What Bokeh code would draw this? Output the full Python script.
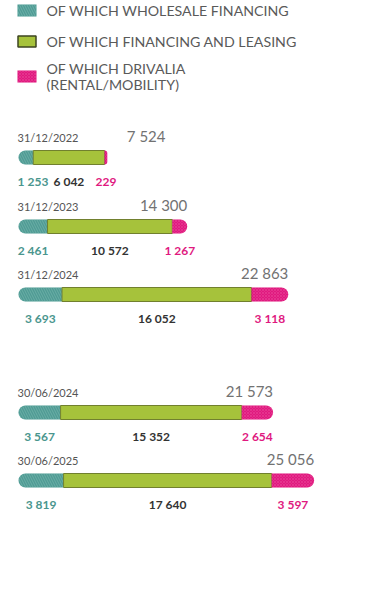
from bokeh.plotting import figure
from bokeh.models import ColumnDataSource, Range1d
from bokeh.core.properties import value
from bokeh.embed import file_html
from bokeh.resources import INLINE

# ---- data ----
dates = ["31/12/2022", "31/12/2023", "31/12/2024", "30/06/2024", "30/06/2025"]
wholesale = [1253, 2461, 3693, 3567, 3819]
financing = [6042, 10572, 16052, 15352, 17640]
drivalia = [229, 1267, 3118, 2654, 3597]
totals = [7524, 14300, 22863, 21573, 25056]
legend_labels = ["OF WHICH WHOLESALE FINANCING", "OF WHICH FINANCING AND LEASING",
                 "OF WHICH DRIVALIA", "(RENTAL/MOBILITY)"]

# ---- layout / style ----
W, H = 364, 600
S = 0.0118          # pixels per unit
X0 = 18             # pixel position of value 0 inside the figure
rows_y = [157, 226, 294, 412, 480]
BAR_H = 14
TEAL, GREEN, PINK = "#4f9b94", "#a6c23b", "#e0197f"
FONT = value("Lato")


def px(xpix):
    """figure pixel -> data value"""
    return (xpix - X0) / S


def fmt(v):
    return f"{v:,}".replace(",", " ")


p = figure(width=W, height=H, output_backend="svg", toolbar_location=None,
           x_range=Range1d(px(0), px(W)), y_range=Range1d(H, 0),
           min_border=0, outline_line_color=None)
p.axis.visible = False
p.grid.visible = False
p.background_fill_color = "white"

right_g = [w + f for w, f in zip(wholesale, financing)]

src = ColumnDataSource(dict(y=rows_y, w=wholesale, g=right_g, t=totals))

p.hbar(y="y", left=0, right="w", height=BAR_H, source=src, fill_color=TEAL,
       line_color=None, hatch_pattern="\\", hatch_color="#8cc4bd", hatch_alpha=0.55,
       hatch_scale=5, hatch_weight=0.8, border_radius=(7, 0, 0, 7))
p.hbar(y="y", left="w", right="g", height=BAR_H, source=src, fill_color=GREEN,
       line_color="#71802e", line_width=1)
p.hbar(y="y", left="g", right="t", height=BAR_H, source=src, fill_color=PINK,
       line_color=None, hatch_pattern="x", hatch_color="#f26aab", hatch_alpha=0.5,
       hatch_scale=3, hatch_weight=0.6, border_radius=(0, 7, 7, 0))

# date labels
p.text(x=[px(17)] * len(dates), y=[y - 20 for y in rows_y], text=dates,
       text_font=FONT, text_font_size="11px", text_color="#555555",
       text_align="left", text_baseline="middle")

# total labels (right aligned at bar end, kept clear of the date label)
tot_x = [max(t, px(165)) for t in totals]
p.text(x=tot_x, y=[y - 22 for y in rows_y], text=[fmt(t) for t in totals],
       text_font=FONT, text_font_size="15px", text_color="#727272",
       text_align="right", text_baseline="middle")

# segment value labels
lab_y = [y + 24 for y in rows_y]
teal_x = [max(w / 2, px(X0 + 14.5)) for w in wholesale]
green_x = [w + f / 2 for w, f in zip(wholesale, financing)]
pink_x = [g + d / 2 for g, d in zip(right_g, drivalia)]
for xs, vals, col in [(teal_x, wholesale, "#4a968e"), (green_x, financing, "#333333"),
                      (pink_x, drivalia, "#e0197f")]:
    p.text(x=xs, y=lab_y, text=[fmt(v) for v in vals], text_font=FONT,
           text_font_size="12px", text_font_style="bold", text_color=col,
           text_align="center", text_baseline="middle")

# legend
sw_x = px(26.5)
sw_y = [10, 41, 76]
p.rect(x=[sw_x], y=[sw_y[0]], width=19, height=12, width_units="screen",
       height_units="screen", fill_color=TEAL, line_color=None, hatch_pattern="\\",
       hatch_color="#8cc4bd", hatch_alpha=0.6, hatch_scale=5, hatch_weight=0.8)
p.rect(x=[sw_x], y=[sw_y[1]], width=18, height=11, width_units="screen",
       height_units="screen", fill_color=GREEN, line_color="#3c4420", line_width=1.5)
p.rect(x=[sw_x], y=[sw_y[2]], width=19, height=12, width_units="screen",
       height_units="screen", fill_color=PINK, line_color=None, hatch_pattern="x",
       hatch_color="#f26aab", hatch_alpha=0.5, hatch_scale=3, hatch_weight=0.6)
p.text(x=[px(46)] * 4, y=[10, 41, 68, 84], text=legend_labels, text_font=FONT,
       text_font_size="14.2px", text_color="#5a5a5a", text_align="left",
       text_baseline="middle")

open("out.html", "w").write(file_html(p, INLINE))
